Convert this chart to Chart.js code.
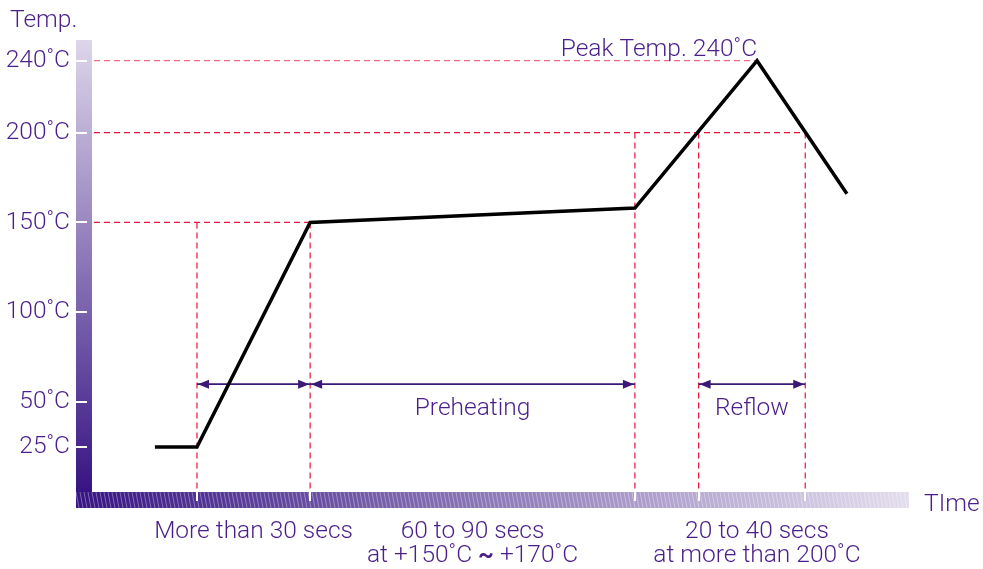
<!DOCTYPE html>
<html>
<head>
<meta charset="utf-8">
<script src="https://cdn.jsdelivr.net/npm/chart.js@4/dist/chart.umd.min.js"></script>
<style>
  html, body { margin: 0; padding: 0; background: #fff; }
  #wrap { width: 983px; height: 569px; }
</style>
</head>
<body>
<div id="wrap"><canvas id="reflow-chart" width="983" height="569"></canvas></div>
<script>
// temperature ticks (°C)
const yTicks = [25, 50, 100, 150, 200, 240];

// reflow profile, time in arbitrary units
const profileTime = [15.4, 25.7, 53.4, 132.9, 162.8, 184.8];
const profileTemp = [25, 25, 150, 158, 240, 166];

// red dashed guides
const guideTemps = [240, 200, 150];
const guideTempEnds = [162.8, 174.6, 53.4];
const guideTimes = [25.7, 53.4, 132.9, 148.5, 174.6];
const guideTimeTops = [150, 150, 200, 200, 200];

// double arrows
const arrowStarts = [25.7, 53.4, 148.5];
const arrowEnds = [53.4, 132.9, 174.6];
const arrowTemp = 60;
const arrowLabels = ['', 'Preheating', 'Reflow'];
const spanLabels = [
    ['More than 30 secs'],
    ['60 to 90 secs', 'at +150˚C ∼ +170˚C'],
    ['20 to 40 secs', 'at more than 200˚C']
];

const purple = '#4a1f8a';
const red = '#e8143c';
const fontFam = 'Roboto, "Liberation Sans", sans-serif';
const fontSize = 24.5;

const datasets = [];
datasets.push({
    data: profileTime.map((t, i) => ({ x: t, y: profileTemp[i] })),
    borderColor: '#000', borderWidth: 3.5, borderJoinStyle: 'miter'
});
arrowStarts.forEach((t, i) => {
    datasets.push({
        arrow: true,
        data: [{ x: t, y: arrowTemp }, { x: arrowEnds[i], y: arrowTemp }],
        borderColor: '#3c1878', borderWidth: 1.8
    });
});
guideTemps.forEach((v, i) => {
    datasets.push({
        data: [{ x: 0.5, y: v }, { x: guideTempEnds[i], y: v }],
        borderColor: i === 0 ? '#ee6a86' : red, borderWidth: 1.2, borderDash: [6, 4]
    });
});
guideTimes.forEach((t, i) => {
    datasets.push({
        data: [{ x: t, y: guideTimeTops[i] }, { x: t, y: 0 }],
        borderColor: red, borderWidth: 1.2, borderDash: [6, 4]
    });
});

// centred text where the tilde is drawn bold
function drawLine(ctx, text, cx, y) {
    const parts = text.split('∼');
    if (parts.length === 1) { ctx.fillText(text, cx, y); return; }
    const light = '300 ' + fontSize + 'px ' + fontFam;
    const bold = '700 ' + fontSize + 'px ' + fontFam;
    ctx.font = light;
    const w0 = ctx.measureText(parts[0]).width, w2 = ctx.measureText(parts[1]).width;
    ctx.font = bold;
    const w1 = ctx.measureText('~').width;
    let x = cx - (w0 + w1 + w2) / 2;
    ctx.textAlign = 'left';
    ctx.font = light; ctx.fillText(parts[0], x, y); x += w0;
    ctx.font = bold; ctx.fillText('~', x, y); x += w1;
    ctx.font = light; ctx.fillText(parts[1], x, y);
    ctx.textAlign = 'center';
}

const decor = {
    id: 'decor',
    beforeDatasetsDraw(chart) {
        const { ctx, chartArea: a, scales } = chart;
        const barW = 16;
        const barL = a.left - barW;
        ctx.save();
        // y bar
        let g = ctx.createLinearGradient(0, a.top, 0, a.bottom);
        g.addColorStop(0, '#ddd6ea');
        g.addColorStop(1, '#371483');
        ctx.fillStyle = g;
        ctx.fillRect(barL, a.top, barW, a.bottom - a.top);
        // x bar
        g = ctx.createLinearGradient(barL, 0, a.right, 0);
        g.addColorStop(0, '#371483');
        g.addColorStop(1, '#e3deed');
        ctx.fillStyle = g;
        ctx.fillRect(barL, a.bottom, a.right - barL, barW);
        // hatching on x bar
        ctx.save();
        ctx.beginPath();
        ctx.rect(barL, a.bottom, a.right - barL, barW);
        ctx.clip();
        ctx.strokeStyle = 'rgba(255,255,255,0.35)';
        ctx.lineWidth = 1;
        ctx.beginPath();
        for (let px = barL - 4; px < a.right; px += 4) {
            ctx.moveTo(px, a.bottom);
            ctx.lineTo(px + 3, a.bottom + barW);
        }
        ctx.stroke();
        ctx.restore();
        // white tick marks
        ctx.strokeStyle = '#fff';
        ctx.lineWidth = 2;
        ctx.beginPath();
        yTicks.forEach(v => {
            const py = Math.round(scales.y.getPixelForValue(v));
            ctx.moveTo(barL, py);
            ctx.lineTo(barL + 11, py);
        });
        guideTimes.forEach(t => {
            const px = Math.round(scales.x.getPixelForValue(t));
            ctx.moveTo(px, a.bottom);
            ctx.lineTo(px, a.bottom + 9);
        });
        ctx.stroke();
        ctx.restore();
    },
    afterDatasetsDraw(chart) {
        const { ctx, scales } = chart;
        ctx.save();
        ctx.fillStyle = '#3c1878';
        chart.data.datasets.forEach((ds, i) => {
            if (!ds.arrow) return;
            const pts = chart.getDatasetMeta(i).data;
            const y0 = pts[0].y, xa = pts[0].x, xb = pts[1].x;
            ctx.beginPath();
            ctx.moveTo(xa + 1, y0);
            ctx.lineTo(xa + 12, y0 - 4.5);
            ctx.lineTo(xa + 12, y0 + 4.5);
            ctx.closePath();
            ctx.moveTo(xb - 1, y0);
            ctx.lineTo(xb - 12, y0 - 4.5);
            ctx.lineTo(xb - 12, y0 + 4.5);
            ctx.closePath();
            ctx.fill();
        });
        // texts
        ctx.fillStyle = purple;
        ctx.font = '300 ' + fontSize + 'px ' + fontFam;
        ctx.textBaseline = 'alphabetic';
        ctx.textAlign = 'left';
        ctx.fillText('Temp.', 10, 27);
        ctx.fillText('TIme', 924, 511);
        ctx.textAlign = 'right';
        const peakX = scales.x.getPixelForValue(profileTime[4]);
        const peakY = scales.y.getPixelForValue(profileTemp[4]);
        ctx.fillText('Peak Temp. 240˚C', peakX, peakY - 5);
        ctx.textAlign = 'center';
        const ay = scales.y.getPixelForValue(arrowTemp);
        arrowStarts.forEach((t, i) => {
            const cx = (scales.x.getPixelForValue(t) + scales.x.getPixelForValue(arrowEnds[i])) / 2;
            if (arrowLabels[i]) ctx.fillText(arrowLabels[i], cx, ay + 31);
            spanLabels[i].forEach((line, k) => drawLine(ctx, line, cx + (i === 2 ? 5 : 0), 538 + k * 24));
        });
        ctx.restore();
    }
};

const ctx = document.getElementById('reflow-chart').getContext('2d');
new Chart(ctx, {
    type: 'scatter',
    data: { datasets: datasets },
    options: {
        responsive: false,
        animation: false,
        devicePixelRatio: 1,
        showLine: true,
        layout: { padding: { top: 40, right: 74, bottom: 77, left: 0 } },
        elements: {
            point: { radius: 0, hoverRadius: 0 },
            line: { tension: 0, fill: false }
        },
        plugins: { legend: { display: false }, tooltip: { enabled: false } },
        scales: {
            x: { type: 'linear', min: 0, max: 200, display: false },
            y: {
                type: 'linear', min: 0, max: 251.5,
                afterBuildTicks: s => { s.ticks = yTicks.map(v => ({ value: v })); },
                afterFit: s => { s.width = 92; },
                grid: { display: false, drawTicks: false },
                border: { display: false },
                ticks: {
                    padding: 22,
                    color: purple,
                    font: { family: fontFam, size: fontSize, weight: '300' },
                    callback: v => v + '˚C'
                }
            }
        }
    },
    plugins: [decor]
});
</script>
</body>
</html>
